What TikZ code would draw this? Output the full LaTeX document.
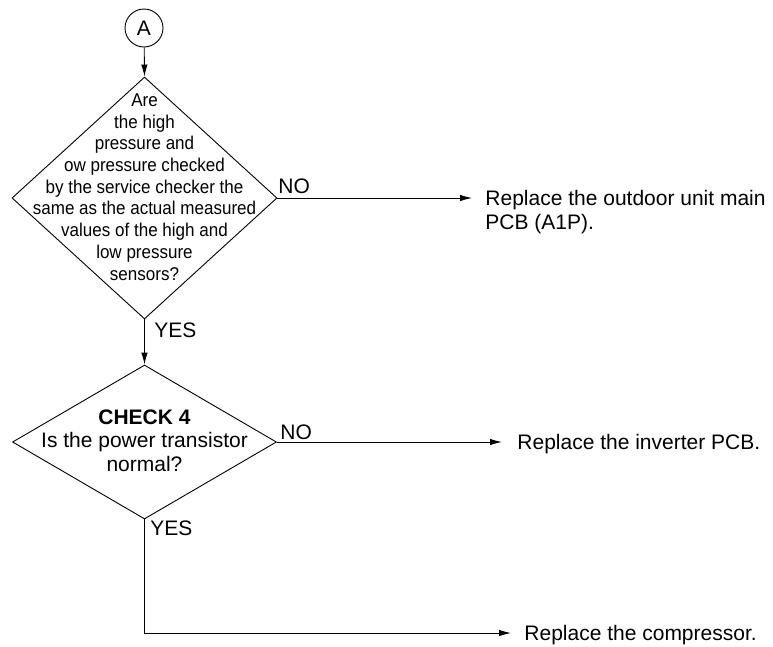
\documentclass[tikz,border=0pt]{standalone}
\usepackage{fontspec}
\setmainfont{Liberation Sans}
\newfontfamily\narrowfont[FakeStretch=0.92]{Liberation Sans}
\usetikzlibrary{shapes.geometric,arrows.meta}
\begin{document}
\begin{tikzpicture}[x=1pt,y=-1pt,line width=0.9pt,
  arr/.style={-{Latex[length=12pt,width=6.5pt]}},
  dia/.style={draw,shape=diamond,inner sep=0pt},
  txt/.style={inner sep=0pt,font=\fontsize{21}{24.5}\selectfont},
  dtxt/.style={inner sep=0pt,align=center,font=\narrowfont\fontsize{18.5}{21.7}\selectfont},
  d2txt/.style={inner sep=0pt,align=center,font=\fontsize{21}{23.5}\selectfont}]
\useasboundingbox (0,0) rectangle (773,646);

% start connector
\node[draw,circle,minimum size=38pt,inner sep=0pt,txt] (A) at (144,28) {A};

% decision 1
\node[dia,minimum width=265pt,minimum height=242pt] (d1) at (144.5,198) {};
\node[dtxt] (q1) at (144.5,187) {Are\\the high\\pressure and\\ow pressure checked\\by the service checker the\\same as the actual measured\\values of the high and\\low pressure\\sensors?};

% decision 2
\node[dia,minimum width=264pt,minimum height=154pt] (d2) at (144.5,442) {};
\node[d2txt] (q2) at (144.5,440.5) {\textbf{CHECK 4}\\Is the power transistor\\normal?};

% results
\node[txt,anchor=west,align=left] (r1) at (485,212) {Replace the outdoor unit main\\PCB (A1P).};
\node[txt,anchor=base west] (r2) at (517,449.5) {Replace the inverter PCB.};
\node[txt,anchor=base west] (r3) at (524,640.5) {Replace the compressor.};

% labels
\node[txt,anchor=base west] (no1) at (278,193) {NO};
\node[txt,anchor=base west] (no2) at (280,439) {NO};
\node[txt,anchor=base west] (yes1) at (154,337.5) {YES};
\node[txt,anchor=base west] (yes2) at (150,535.5) {YES};

% connector ends
\coordinate (e1) at (472,198);
\coordinate (e2) at (502,442);
\coordinate (e3) at (511,633);

% connectors
\draw[arr] (A) -- (d1.north);
\draw[arr] (d1.south) -- (d2.north);
\draw[arr] (d1.east) -- (e1);
\draw[arr] (d2.east) -- (e2);
\draw[arr] (d2.south) |- (e3);
\end{tikzpicture}
\end{document}
